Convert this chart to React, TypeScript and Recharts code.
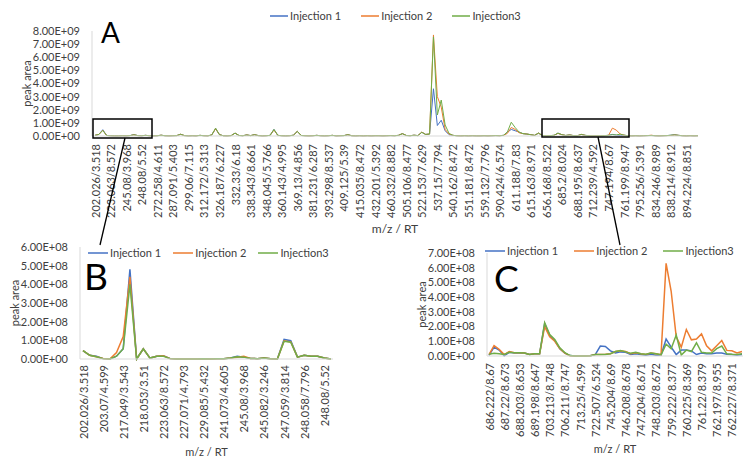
import { Legend, Line, LineChart, XAxis, YAxis } from 'recharts'

const BLUE = '#4472C4'
const ORANGE = '#ED7D31'
const GREEN = '#70AD47'
const TEXT = '#404040'
const AXIS = '#d9d9d9'
const FONT = 'Lato, "Open Sans", sans-serif'

// ---- panel A: full run, one label every 4 points ----
const labelsA = [
  '202.026/3.518', '223.063/8.572', '245.08/3.968', '248.08/5.52', '272.258/4.611', '287.091/5.403',
  '299.06/7.115', '312.172/5.313', '326.187/6.227', '332.33/6.18', '338.343/8.661', '348.045/5.766',
  '360.143/4.995', '369.13/4.856', '381.231/6.287', '393.298/8.537', '409.125/5.39', '415.035/8.472',
  '432.201/5.392', '460.332/8.882', '505.106/8.477', '522.153/7.629', '537.15/7.794', '540.162/8.472',
  '551.181/8.472', '559.132/7.796', '590.424/6.574', '611.188/7.83', '615.163/8.971', '656.168/8.522',
  '685.2/8.024', '688.195/8.637', '712.239/4.592', '747.194/8.67', '761.199/8.947', '795.256/5.391',
  '834.246/8.989', '838.214/8.912', '894.224/8.851',
]

const inj1A = [
  0.05e9, 0.12e9, 0.48e9, 0.04e9, 0.02e9, 0.01e9, 0.01e9, 0.02e9, 0.01e9, 0.03e9,
  0.105e9, 0.03e9, 0.02e9, 0.05e9, 0.02e9, 0.01e9, 0.02e9, 0.06e9, 0.02e9, 0.01e9,
  0.02e9, 0.03e9, 0.13e9, 0.03e9, 0.01e9, 0.02e9, 0.01e9, 0.05e9, 0.02e9, 0.01e9,
  0.08e9, 0.55e9, 0.1e9, 0.02e9, 0.01e9, 0.03e9, 0.22e9, 0.04e9, 0.02e9, 0.08e9,
  0.03e9, 0.1e9, 0.03e9, 0.01e9, 0.02e9, 0.05e9, 0.5e9, 0.05e9, 0.02e9, 0.01e9,
  0.02e9, 0.06e9, 0.35e9, 0.04e9, 0.02e9, 0.01e9, 0.02e9, 0.05e9, 0.02e9, 0.01e9,
  0.02e9, 0.05e9, 0.01e9, 0.02e9, 0.03e9, 0.1e9, 0.02e9, 0.01e9, 0.02e9, 0.01e9,
  0.02e9, 0.01e9, 0.02e9, 0.02e9, 0.01e9, 0.02e9, 0.03e9, 0.02e9, 0.05e9, 0.18e9,
  0.04e9, 0.02e9, 0.06e9, 0.03e9, 0.28e9, 0.12e9, 0.15e9, 3.6e9, 0.8e9, 1.2e9,
  0.4e9, 0.1e9, 0.05e9, 0.02e9, 0.01e9, 0.02e9, 0.01e9, 0.02e9, 0.01e9, 0.01e9,
  0.02e9, 0.01e9, 0.02e9, 0.03e9, 0.02e9, 0.05e9, 0.3e9, 0.5e9, 0.4e9, 0.3e9,
  0.18e9, 0.15e9, 0.1e9, 0.05e9, 0.22e9, 0.04e9, 0.02e9, 0.03e9, 0.05e9, 0.22e9,
  0.1e9, 0.04e9, 0.08e9, 0.03e9, 0.02e9, 0.12e9, 0.05e9, 0.02e9, 0.01e9, 0.02e9,
  0.02e9, 0.03e9, 0.05e9, 0.12e9, 0.06e9, 0.04e9, 0.06e9, 0.02e9, 0.01e9, 0.02e9,
  0.01e9, 0.02e9, 0.03e9, 0.04e9, 0.02e9, 0.01e9, 0.02e9, 0.03e9, 0.06e9, 0.1e9,
  0.05e9, 0.02e9, 0.01e9, 0.02e9, 0.01e9, 0.02e9,
]

const inj2A = [
  0.05e9, 0.12e9, 0.44e9, 0.04e9, 0.02e9, 0.01e9, 0.01e9, 0.02e9, 0.01e9, 0.03e9,
  0.09e9, 0.03e9, 0.02e9, 0.05e9, 0.02e9, 0.01e9, 0.02e9, 0.06e9, 0.02e9, 0.01e9,
  0.02e9, 0.03e9, 0.13e9, 0.03e9, 0.01e9, 0.02e9, 0.01e9, 0.05e9, 0.02e9, 0.01e9,
  0.08e9, 0.55e9, 0.1e9, 0.02e9, 0.01e9, 0.03e9, 0.22e9, 0.04e9, 0.02e9, 0.08e9,
  0.03e9, 0.1e9, 0.03e9, 0.01e9, 0.02e9, 0.05e9, 0.46e9, 0.05e9, 0.02e9, 0.01e9,
  0.02e9, 0.06e9, 0.35e9, 0.04e9, 0.02e9, 0.01e9, 0.02e9, 0.05e9, 0.02e9, 0.01e9,
  0.02e9, 0.05e9, 0.01e9, 0.02e9, 0.03e9, 0.1e9, 0.02e9, 0.01e9, 0.02e9, 0.01e9,
  0.02e9, 0.01e9, 0.02e9, 0.02e9, 0.01e9, 0.02e9, 0.03e9, 0.02e9, 0.05e9, 0.18e9,
  0.04e9, 0.02e9, 0.06e9, 0.03e9, 0.3e9, 0.12e9, 0.15e9, 7.7e9, 3.0e9, 2.2e9,
  0.5e9, 0.15e9, 0.05e9, 0.02e9, 0.01e9, 0.02e9, 0.01e9, 0.02e9, 0.01e9, 0.01e9,
  0.02e9, 0.01e9, 0.02e9, 0.03e9, 0.02e9, 0.05e9, 0.2e9, 0.65e9, 0.5e9, 0.25e9,
  0.18e9, 0.15e9, 0.1e9, 0.05e9, 0.22e9, 0.04e9, 0.02e9, 0.03e9, 0.05e9, 0.2e9,
  0.1e9, 0.04e9, 0.08e9, 0.03e9, 0.02e9, 0.12e9, 0.05e9, 0.02e9, 0.01e9, 0.02e9,
  0.02e9, 0.03e9, 0.05e9, 0.6e9, 0.45e9, 0.15e9, 0.06e9, 0.02e9, 0.01e9, 0.02e9,
  0.01e9, 0.02e9, 0.03e9, 0.06e9, 0.02e9, 0.01e9, 0.02e9, 0.03e9, 0.04e9, 0.08e9,
  0.05e9, 0.02e9, 0.01e9, 0.02e9, 0.01e9, 0.02e9,
]

const inj3A = [
  0.05e9, 0.12e9, 0.42e9, 0.04e9, 0.02e9, 0.01e9, 0.01e9, 0.02e9, 0.01e9, 0.03e9,
  0.09e9, 0.03e9, 0.02e9, 0.05e9, 0.02e9, 0.01e9, 0.02e9, 0.06e9, 0.02e9, 0.01e9,
  0.02e9, 0.03e9, 0.13e9, 0.03e9, 0.01e9, 0.02e9, 0.01e9, 0.05e9, 0.02e9, 0.01e9,
  0.08e9, 0.6e9, 0.1e9, 0.02e9, 0.01e9, 0.03e9, 0.22e9, 0.04e9, 0.02e9, 0.08e9,
  0.03e9, 0.1e9, 0.03e9, 0.01e9, 0.02e9, 0.05e9, 0.5e9, 0.05e9, 0.02e9, 0.01e9,
  0.02e9, 0.06e9, 0.35e9, 0.04e9, 0.02e9, 0.01e9, 0.02e9, 0.05e9, 0.02e9, 0.01e9,
  0.02e9, 0.05e9, 0.01e9, 0.02e9, 0.03e9, 0.1e9, 0.02e9, 0.01e9, 0.02e9, 0.01e9,
  0.02e9, 0.01e9, 0.02e9, 0.02e9, 0.01e9, 0.02e9, 0.03e9, 0.02e9, 0.05e9, 0.18e9,
  0.04e9, 0.02e9, 0.06e9, 0.03e9, 0.28e9, 0.12e9, 0.15e9, 7.55e9, 1.6e9, 2.74e9,
  0.84e9, 0.2e9, 0.05e9, 0.02e9, 0.01e9, 0.02e9, 0.01e9, 0.02e9, 0.01e9, 0.01e9,
  0.02e9, 0.01e9, 0.02e9, 0.03e9, 0.02e9, 0.05e9, 0.3e9, 1.05e9, 0.65e9, 0.3e9,
  0.18e9, 0.15e9, 0.1e9, 0.05e9, 0.22e9, 0.04e9, 0.02e9, 0.03e9, 0.05e9, 0.22e9,
  0.1e9, 0.04e9, 0.08e9, 0.03e9, 0.02e9, 0.12e9, 0.05e9, 0.02e9, 0.01e9, 0.02e9,
  0.02e9, 0.03e9, 0.05e9, 0.1e9, 0.08e9, 0.14e9, 0.06e9, 0.02e9, 0.01e9, 0.02e9,
  0.01e9, 0.02e9, 0.03e9, 0.04e9, 0.02e9, 0.01e9, 0.02e9, 0.03e9, 0.06e9, 0.08e9,
  0.05e9, 0.02e9, 0.01e9, 0.02e9, 0.01e9, 0.02e9,
]

// ---- panel B: zoom on the low m/z box, one label every 3 points ----
const labelsB = [
  '202.026/3.518', '203.07/4.599', '217.049/3.543', '218.053/3.51', '223.063/8.572', '227.071/4.793',
  '229.085/5.432', '241.073/4.605', '245.08/3.968', '245.082/3.246', '247.059/3.814', '248.058/7.796',
  '248.08/5.52',
]

const inj1B = [
  0.45e8, 0.2e8, 0.15e8, 0.02e8, 0, 0.15e8, 0.55e8, 4.8e8, 0, 0.55e8,
  0.05e8, 0.15e8, 0.18e8, 0.02e8, 0, 0, 0, 0, 0.02e8, 0,
  0.01e8, 0.02e8, 0.05e8, 0.15e8, 0.1e8, 0.03e8, 0.02e8, 0.05e8, 0.02e8, 0,
  1.05e8, 0.98e8, 0.1e8, 0.2e8, 0.15e8, 0.15e8, 0.05e8, 0,
]
const inj2B = [
  0.45e8, 0.2e8, 0.12e8, 0.03e8, 0, 0.35e8, 1.2e8, 4.4e8, 0, 0.55e8,
  0.05e8, 0.15e8, 0.18e8, 0.02e8, 0, 0, 0, 0, 0.02e8, 0,
  0.01e8, 0.02e8, 0.05e8, 0.1e8, 0.15e8, 0.03e8, 0.02e8, 0.05e8, 0.02e8, 0,
  0.97e8, 0.92e8, 0.1e8, 0.2e8, 0.15e8, 0.15e8, 0.05e8, 0,
]
const inj3B = [
  0.45e8, 0.2e8, 0.12e8, 0.02e8, 0, 0.15e8, 0.55e8, 4.0e8, 0, 0.55e8,
  0.05e8, 0.15e8, 0.15e8, 0.02e8, 0, 0, 0, 0, 0.02e8, 0,
  0.01e8, 0.02e8, 0.05e8, 0.12e8, 0.1e8, 0.03e8, 0.02e8, 0.05e8, 0.02e8, 0,
  0.95e8, 0.9e8, 0.1e8, 0.2e8, 0.15e8, 0.15e8, 0.05e8, 0,
]

// ---- panel C: zoom on the high m/z box ----
const labelsC = [
  '686.222/8.67', '687.22/8.673', '688.203/8.653', '689.198/8.647', '703.213/8.748', '706.211/8.747',
  '713.25/4.599', '722.507/6.524', '745.204/8.69', '746.208/8.678', '747.204/8.671', '748.203/8.672',
  '759.222/8.377', '760.225/8.369', '761.22/8.379', '762.197/8.955', '762.227/8.371',
]

const inj1C = [
  0.05e8, 0.6e8, 0.4e8, 0.02e8, 0.25e8, 0.2e8, 0.2e8, 0.2e8, 0.1e8, 0.15e8,
  0.15e8, 2.2e8, 1.4e8, 1.05e8, 0.5e8, 0.2e8, 0.03e8, 0, 0, 0,
  0.02e8, 0.1e8, 0.68e8, 0.65e8, 0.35e8, 0.2e8, 0.28e8, 0.25e8, 0.1e8, 0.15e8,
  0.1e8, 0.05e8, 0.12e8, 0.05e8, 0.05e8, 1.15e8, 0.6e8, 0.1e8, 0.4e8, 0.4e8,
  0.35e8, 0.1e8, 0.2e8, 0.15e8, 0.15e8, 0.2e8, 0.2e8, 0.12e8, 0.1e8, 0.05e8,
  0.1e8,
]
const inj2C = [
  0.1e8, 0.7e8, 0.45e8, 0.1e8, 0.3e8, 0.22e8, 0.22e8, 0.2e8, 0.1e8, 0.15e8,
  0.15e8, 2.0e8, 1.3e8, 1.0e8, 0.5e8, 0.2e8, 0.02e8, 0, 0, 0,
  0.02e8, 0.1e8, 0.1e8, 0.12e8, 0.15e8, 0.3e8, 0.35e8, 0.3e8, 0.15e8, 0.22e8,
  0.15e8, 0.1e8, 0.2e8, 0.15e8, 0.08e8, 6.3e8, 4.4e8, 1.3e8, 0.6e8, 1.8e8,
  1.1e8, 1.15e8, 1.5e8, 0.7e8, 0.35e8, 0.7e8, 1.05e8, 0.38e8, 0.35e8, 0.2e8,
  0.3e8,
]
const inj3C = [
  0.12e8, 0.18e8, 0.15e8, 0.1e8, 0.25e8, 0.22e8, 0.22e8, 0.2e8, 0.1e8, 0.15e8,
  0.15e8, 2.27e8, 1.45e8, 1.12e8, 0.55e8, 0.22e8, 0.03e8, 0, 0, 0,
  0.02e8, 0.1e8, 0.1e8, 0.1e8, 0.15e8, 0.3e8, 0.38e8, 0.28e8, 0.18e8, 0.25e8,
  0.15e8, 0.12e8, 0.2e8, 0.15e8, 0.08e8, 0.8e8, 0.5e8, 1.43e8, 0.07e8, 0.4e8,
  0.3e8, 0.9e8, 0.25e8, 0.2e8, 0.2e8, 0.5e8, 0.68e8, 0.15e8, 0.12e8, 0.1e8,
  0.15e8,
]

type Row = { idx: number; inj1: number; inj2: number; inj3: number }

function toRows(a: number[], b: number[], c: number[]): Row[] {
  return a.map((v, i) => ({ idx: i, inj1: v, inj2: b[i], inj3: c[i] }))
}

// Excel style 0.00E+00
function sci(v: number) {
  if (v === 0) return '0.00E+00'
  const e = Math.floor(Math.log10(v) + 1e-9)
  const m = v / Math.pow(10, e)
  return `${m.toFixed(2)}E+${String(e).padStart(2, '0')}`
}

function RotatedTick({ x, y, payload, fmt }: any) {
  return (
    <text
      x={x}
      y={y}
      transform={`rotate(-90 ${x} ${y})`}
      textAnchor="end"
      dominantBaseline="central"
      fontSize={11}
      fill={TEXT}
    >
      {fmt(payload.value)}
    </text>
  )
}

function legendContent(gap: number, lineLen: number) {
  return ({ payload }: any) => (
    <div style={{ display: 'flex', alignItems: 'center', gap, fontSize: 11, color: TEXT, whiteSpace: 'nowrap' }}>
      {(payload ?? []).map((entry: any) => (
        <span key={entry.value} style={{ display: 'flex', alignItems: 'center', gap: 2 }}>
          <svg width={lineLen} height={6}>
            <line x1={0} y1={3} x2={lineLen} y2={3} stroke={entry.color} strokeWidth={1.5} />
          </svg>
          <span>{entry.value}</span>
        </span>
      ))}
    </div>
  )
}

type PanelProps = {
  rows: Row[]
  labels: string[]
  step: number
  yMax: number
  yStep: number
  left: number
  top: number
  width: number
  height: number
  plotLeft: number
  plotRight: number
  plotTop: number
  plotBottom: number
  padLeft: number
  padRight: number
  tickGap: number
  legendLeft: number
  legendTop: number
  legendGap: number
  lineLen: number
  strokeWidth: number
  titleSize: number
}

function Panel(p: PanelProps) {
  const yTicks = Array.from({ length: Math.round(p.yMax / p.yStep) + 1 }, (_, k) => k * p.yStep)
  const fmt = (i: number) => (i % p.step === 0 ? p.labels[i / p.step] ?? '' : '')
  const midY = (p.plotTop + p.plotBottom) / 2
  const yTitleX = p.plotLeft - 66
  return (
    <div style={{ position: 'absolute', left: p.left, top: p.top }}>
      <LineChart
        width={p.width}
        height={p.height}
        data={p.rows}
        margin={{ top: p.plotTop, right: p.width - p.plotRight, bottom: p.height - p.plotBottom - 100, left: 0 }}
      >
        <XAxis
          dataKey="idx"
          type="category"
          interval={p.step - 1}
          height={100}
          padding={{ left: p.padLeft, right: p.padRight }}
          axisLine={{ stroke: AXIS }}
          tickLine={false}
          tickSize={0}
          tickMargin={p.tickGap}
          tick={(t: any) => <RotatedTick {...t} fmt={fmt} />}
          label={{
            content: () => (
              <text
                x={(p.plotLeft + p.plotRight) / 2}
                y={p.plotBottom + 92}
                textAnchor="middle"
                dominantBaseline="central"
                fontSize={p.titleSize}
                fill={TEXT}
              >
                m/z / RT
              </text>
            ),
          }}
        />
        <YAxis
          width={p.plotLeft}
          domain={[0, p.yMax]}
          ticks={yTicks}
          interval={0}
          tickFormatter={sci}
          axisLine={{ stroke: AXIS }}
          tickLine={false}
          tickSize={0}
          tickMargin={12}
          tick={{ fontSize: 11, fill: TEXT }}
          label={{
            content: () => (
              <text
                x={yTitleX}
                y={midY}
                transform={`rotate(-90 ${yTitleX} ${midY})`}
                textAnchor="middle"
                dominantBaseline="central"
                fontSize={11}
                fill={TEXT}
              >
                peak area
              </text>
            ),
          }}
        />
        <Legend
          layout="horizontal"
          verticalAlign="middle"
          align="center"
          wrapperStyle={{ left: p.legendLeft, top: p.legendTop, width: 'auto' }}
          content={legendContent(p.legendGap, p.lineLen)}
        />
        <Line type="linear" dataKey="inj1" name="Injection 1" stroke={BLUE} strokeWidth={p.strokeWidth} dot={false} activeDot={false} isAnimationActive={false} />
        <Line type="linear" dataKey="inj2" name="Injection 2" stroke={ORANGE} strokeWidth={p.strokeWidth} dot={false} activeDot={false} isAnimationActive={false} />
        <Line type="linear" dataKey="inj3" name="Injection3" stroke={GREEN} strokeWidth={p.strokeWidth} dot={false} activeDot={false} isAnimationActive={false} />
      </LineChart>
    </div>
  )
}

export default function App() {
  return (
    <div
      style={{
        position: 'absolute',
        left: 0,
        top: 0,
        width: 755,
        height: 464,
        overflow: 'hidden',
        background: '#fff',
        fontFamily: FONT,
      }}
    >
      <Panel
        rows={toRows(inj1A, inj2A, inj3A)}
        labels={labelsA}
        step={4}
        yMax={8e9}
        yStep={1e9}
        left={0}
        top={0}
        width={755}
        height={240}
        plotLeft={92}
        plotRight={698}
        plotTop={31}
        plotBottom={136}
        padLeft={3}
        padRight={0}
        tickGap={8}
        legendLeft={270}
        legendTop={9}
        legendGap={20}
        lineLen={18}
        strokeWidth={1}
        titleSize={12}
      />
      <Panel
        rows={toRows(inj1B, inj2B, inj3B)}
        labels={labelsB}
        step={3}
        yMax={6e8}
        yStep={1e8}
        left={0}
        top={230}
        width={370}
        height={234}
        plotLeft={80}
        plotRight={333}
        plotTop={17}
        plotBottom={129}
        padLeft={3}
        padRight={2}
        tickGap={6}
        legendLeft={88}
        legendTop={16}
        legendGap={12}
        lineLen={20}
        strokeWidth={1.5}
        titleSize={11}
      />
      <Panel
        rows={toRows(inj1C, inj2C, inj3C)}
        labels={labelsC}
        step={3}
        yMax={7e8}
        yStep={1e8}
        left={370}
        top={230}
        width={385}
        height={234}
        plotLeft={117}
        plotRight={373}
        plotTop={23}
        plotBottom={126}
        padLeft={2}
        padRight={1}
        tickGap={7}
        legendLeft={115}
        legendTop={14}
        legendGap={16}
        lineLen={20}
        strokeWidth={1.5}
        titleSize={11}
      />
      {/* zoom boxes, connectors and panel letters */}
      <svg width={755} height={464} style={{ position: 'absolute', left: 0, top: 0, pointerEvents: 'none' }}>
        <rect x={93} y={119} width={59} height={19} fill="none" stroke="#000" strokeWidth={1.5} />
        <rect x={542} y={119} width={87} height={18} fill="none" stroke="#000" strokeWidth={1.5} />
        <line x1={125} y1={138} x2={100} y2={245} stroke="#000" strokeWidth={1.3} />
        <line x1={598} y1={137} x2={620} y2={245} stroke="#000" strokeWidth={1.3} />
        <text x={101} y={43} fontSize={28} fill="#000" fontFamily={FONT}>A</text>
        <text x={84} y={290} fontSize={37} fill="#000" fontFamily={FONT}>B</text>
        <text x={494} y={292} fontSize={37} fill="#000" fontFamily={FONT}>C</text>
      </svg>
    </div>
  )
}
